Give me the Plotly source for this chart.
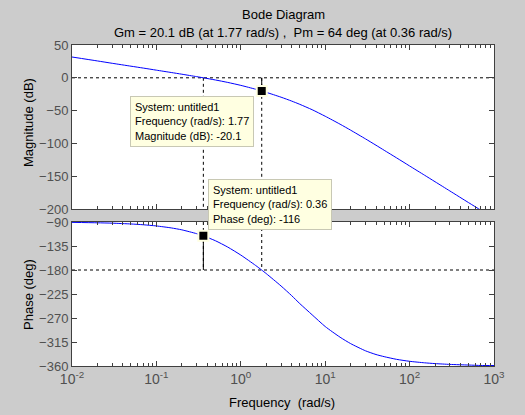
import plotly.graph_objects as go

# ---- data ----
freq = [0.01, 0.02, 0.03, 0.05, 0.07, 0.1, 0.15, 0.2, 0.3, 0.36, 0.5, 0.7, 1, 1.5, 1.77, 2, 3, 4, 5, 7,
        10, 15, 20, 30, 40, 50, 70, 100, 150, 200, 300, 500, 700, 1000]
mag_db = [31.7, 25.7, 22.1, 17.7, 14.8, 11.65, 8.07, 5.49, 1.76, 0.0, -3.31, -7.05, -11.53, -17.42, -20.1,
          -22.14, -29.56, -35.44, -40.42, -48.64, -58.6, -70.7, -79.8, -93.1, -102.8, -110.5,
          -122.0, -134.4, -148.4, -158.4, -172.5, -190.3, -201.9, -214.3]
phase_deg = [-90.7, -91.5, -92.2, -93.7, -95.2, -97.4, -101.1, -104.7, -111.9, -116.0, -125.1, -137.0,
             -152.0, -171.5, -180.1, -186.7, -210.0, -228.0, -243.0, -264.0, -286.0, -306.0, -318.0,
             -331.5, -338.5, -342.5, -347.5, -351.2, -354.0, -355.5, -357.0, -358.2, -359.0, -359.1]

gm_freq, gm_mag = 1.77, -20.1
pm_freq, pm_phase = 0.36, -116
x_range = [0.01, 1000]
mag_range = [-200, 50]
phase_range = [-360, -90]
mag_ticks = [-200, -150, -100, -50, 0, 50]
phase_ticks = [-360, -315, -270, -225, -180, -135, -90]
x_tickvals = [0.01, 0.1, 1, 10, 100, 1000]
x_ticktext = ["10<sup>-2</sup>", "10<sup>-1</sup>", "10<sup>0</sup>", "10<sup>1</sup>",
              "10<sup>2</sup>", "10<sup>3</sup>"]

title1 = "Bode Diagram"
title2 = "Gm = 20.1 dB (at 1.77 rad/s) ,&nbsp; Pm = 64 deg (at 0.36 rad/s)"
tip1 = "System: untitled1<br>Frequency (rad/s): 1.77<br>Magnitude (dB): -20.1"
tip2 = "System: untitled1<br>Frequency (rad/s): 0.36<br>Phase (deg): -116"

FONT = "Liberation Sans, Arial, Helvetica, sans-serif"
AXC = "#404040"
TICKC = "#505050"
BLUE = "#0000ff"
DASH = "3px,3px"

W, H = 525, 415
L, R, T, B = 72, 31, 45, 49
PH = H - T - B
PW = W - L - R


def py(p):
    return (H - B - p) / PH


def px(p):
    return (p - L) / PW


fig = go.Figure()

# reference lines (magnitude)
fig.add_trace(go.Scatter(x=x_range, y=[0, 0], mode="lines", line=dict(color="black", width=1, dash=DASH),
                         xaxis="x", yaxis="y", hoverinfo="skip"))
for f in (gm_freq, pm_freq):
    fig.add_trace(go.Scatter(x=[f, f], y=[0, mag_range[0]], mode="lines",
                             line=dict(color="black", width=1, dash=DASH), xaxis="x", yaxis="y", hoverinfo="skip"))
fig.add_trace(go.Scatter(x=[gm_freq, gm_freq], y=[0, gm_mag], mode="lines", line=dict(color="black", width=1),
                         xaxis="x", yaxis="y", hoverinfo="skip"))

# reference lines (phase)
fig.add_trace(go.Scatter(x=x_range, y=[-180, -180], mode="lines", line=dict(color="black", width=1, dash=DASH),
                         xaxis="x2", yaxis="y2", hoverinfo="skip"))
for f in (gm_freq, pm_freq):
    fig.add_trace(go.Scatter(x=[f, f], y=[phase_range[1], -180], mode="lines",
                             line=dict(color="black", width=1, dash=DASH), xaxis="x2", yaxis="y2", hoverinfo="skip"))
fig.add_trace(go.Scatter(x=[pm_freq, pm_freq], y=[pm_phase, -180], mode="lines", line=dict(color="black", width=1),
                         xaxis="x2", yaxis="y2", hoverinfo="skip"))

# curves
fig.add_trace(go.Scatter(x=freq, y=mag_db, mode="lines", line=dict(color=BLUE, width=1, shape="spline", smoothing=0.6),
                         xaxis="x", yaxis="y"))
fig.add_trace(go.Scatter(x=freq, y=phase_deg, mode="lines",
                         line=dict(color=BLUE, width=1, shape="spline", smoothing=0.6), xaxis="x2", yaxis="y2"))

# data tip markers
mk = dict(symbol="square", size=10, color="black", line=dict(color="#ffffe1", width=2))
fig.add_trace(go.Scatter(x=[gm_freq], y=[gm_mag], mode="markers", marker=mk, xaxis="x", yaxis="y", cliponaxis=False))
fig.add_trace(go.Scatter(x=[pm_freq], y=[pm_phase], mode="markers", marker=mk, xaxis="x2", yaxis="y2",
                         cliponaxis=False))

xcommon = dict(type="log", range=[-2, 3], showline=True, linecolor=AXC, linewidth=1, mirror="ticks",
               ticks="inside", ticklen=5, tickcolor=AXC, tickvals=x_tickvals, showgrid=False, zeroline=False,
               minor=dict(ticks="inside", ticklen=3, tickcolor=AXC, dtick="D1", showgrid=False))
ycommon = dict(showline=True, linecolor=AXC, linewidth=1, mirror="ticks", ticks="inside", ticklen=5,
               tickcolor=AXC, showgrid=False, zeroline=False, tickfont=dict(family=FONT, size=13, color=TICKC))

fig.update_layout(
    width=W, height=H, margin=dict(l=L, r=R, t=T, b=B),
    paper_bgcolor="#cccccc", plot_bgcolor="white", showlegend=False,
    font=dict(family=FONT, size=13, color="black"),
    xaxis=dict(xcommon, anchor="y", showticklabels=False, domain=[0, 1]),
    yaxis=dict(ycommon, anchor="x", domain=[py(209), 1], range=mag_range, tickvals=mag_ticks),
    xaxis2=dict(xcommon, anchor="y2", domain=[0, 1], ticktext=x_ticktext,
                tickfont=dict(family=FONT, size=14, color=TICKC)),
    yaxis2=dict(ycommon, anchor="x2", domain=[0, py(222)], range=phase_range, tickvals=phase_ticks),
)

ann = [
    dict(text=title1, x=px(283), y=py(15), xref="paper", yref="paper", showarrow=False, yanchor="middle",
         font=dict(size=13)),
    dict(text=title2, x=px(283), y=py(32), xref="paper", yref="paper", showarrow=False, yanchor="middle",
         font=dict(size=13)),
    dict(text="Magnitude (dB)", x=px(28), y=py(123), xref="paper", yref="paper", showarrow=False,
         textangle=-90, xanchor="center", yanchor="middle", font=dict(size=13)),
    dict(text="Phase (deg)", x=px(28), y=py(295), xref="paper", yref="paper", showarrow=False,
         textangle=-90, xanchor="center", yanchor="middle", font=dict(size=13)),
    dict(text="Frequency&nbsp; (rad/s)", x=px(282), y=py(403), xref="paper", yref="paper", showarrow=False,
         xanchor="center", yanchor="middle", font=dict(size=13)),
    dict(text=tip1, x=px(130), y=py(96), xref="paper", yref="paper", showarrow=False, xanchor="left",
         yanchor="top", align="left", bgcolor="#ffffe1", bordercolor="#c8c8b4", borderwidth=1, borderpad=4,
         font=dict(size=11)),
    dict(text=tip2, x=px(208), y=py(179), xref="paper", yref="paper", showarrow=False, xanchor="left",
         yanchor="top", align="left", bgcolor="#ffffe1", bordercolor="#c8c8b4", borderwidth=1, borderpad=4,
         font=dict(size=11)),
]
fig.update_layout(annotations=ann)

fig.write_html("out.html", config={"displayModeBar": False},
               post_script="document.body.style.margin='0px';document.body.style.overflow='hidden';")
